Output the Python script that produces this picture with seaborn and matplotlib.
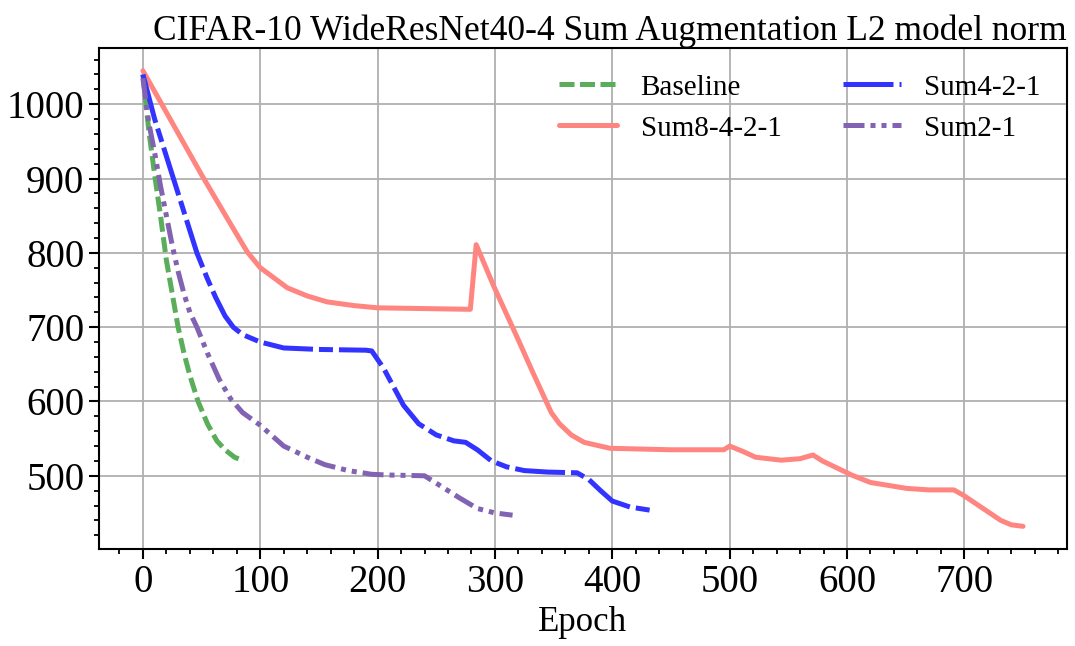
import pandas as pd
import seaborn as sns
import matplotlib.pyplot as plt
from matplotlib.ticker import MultipleLocator

# values (epoch, L2 norm)
baseline_epoch = [0, 5, 10, 15, 20, 25, 30, 35, 40, 47, 55, 63, 70, 78, 86]
baseline_norm = [1040, 965, 905, 850, 790, 745, 700, 665, 635, 600, 570, 547, 535, 525, 520]

sum8421_epoch = [0, 25, 50, 75, 89, 100, 123, 140, 157, 180, 200, 240, 279, 284, 299, 319,
                 332, 348, 355, 365, 376, 398, 450, 495, 500, 511, 522, 544, 560, 571, 579,
                 604, 620, 651, 670, 691, 699, 715, 731, 740, 750]
sum8421_norm = [1045, 975, 905, 838, 801, 780, 753, 742, 734, 729, 726, 725, 724, 811, 755, 686,
                640, 585, 570, 555, 545, 537, 535, 535, 540, 533, 525, 521, 523, 528, 520,
                501, 491, 483, 481, 481, 474, 457, 440, 434, 432]

sum421_epoch = [0, 5, 10, 15, 20, 26, 35, 46, 55, 62, 70, 77, 85, 100, 120, 150, 190, 195,
                205, 222, 235, 250, 265, 275, 285, 297, 310, 325, 345, 370, 380, 390, 400,
                415, 435]
sum421_norm = [1040, 1010, 980, 955, 930, 900, 855, 800, 765, 740, 715, 700, 690, 680, 672, 670,
               669, 668, 645, 595, 570, 555, 547, 545, 535, 520, 512, 507, 505, 504, 495, 480,
               466, 458, 453]

sum21_epoch = [0, 5, 10, 15, 20, 25, 30, 35, 40, 46, 55, 65, 75, 85, 100, 120, 140, 155, 175,
               195, 210, 240, 255, 270, 285, 300, 315]
sum21_norm = [1035, 975, 935, 890, 850, 810, 775, 745, 720, 700, 665, 630, 603, 585, 568, 540,
              525, 515, 507, 502, 501, 500, 485, 470, 456, 450, 447]

labels = ['Baseline', 'Sum8-4-2-1', 'Sum4-2-1', 'Sum2-1']
epochs = [baseline_epoch, sum8421_epoch, sum421_epoch, sum21_epoch]
norms = [baseline_norm, sum8421_norm, sum421_norm, sum21_norm]

df = pd.concat([pd.DataFrame({'Epoch': e, 'norm': n, 'model': lab})
                for lab, e, n in zip(labels, epochs, norms)], ignore_index=True)

palette = {'Baseline': '#5aad5a', 'Sum8-4-2-1': '#ff8580',
           'Sum4-2-1': '#3333ff', 'Sum2-1': '#8262b2'}
dashes = {'Baseline': (3, 1.1), 'Sum8-4-2-1': '',
          'Sum4-2-1': (10, 1.2, 2.8, 1.2), 'Sum2-1': (4.2, 1.2, 1, 1.2, 1, 1.2)}

sns.set_style('ticks')
plt.rcParams['font.family'] = ['Liberation Serif', 'DejaVu Serif']
plt.rcParams.update({'text.color': 'black', 'axes.labelcolor': 'black',
                     'xtick.color': 'black', 'ytick.color': 'black'})

fig = plt.figure(figsize=(10.75, 6.46), dpi=100)
ax = fig.add_axes([0.092, 0.150, 0.9006, 0.7757])

sns.lineplot(data=df, x='Epoch', y='norm', hue='model', style='model',
             hue_order=labels, style_order=labels, palette=palette, dashes=dashes,
             linewidth=3.6, sort=False, ax=ax)

ax.xaxis.set_major_locator(MultipleLocator(100))
ax.xaxis.set_minor_locator(MultipleLocator(20))
ax.yaxis.set_major_locator(MultipleLocator(100))
ax.yaxis.set_minor_locator(MultipleLocator(20))
ax.tick_params(which='major', direction='out', length=7, width=1.5, labelsize=28,
               color='black', labelcolor='black')
ax.tick_params(which='minor', direction='out', length=3.5, width=1.3, color='black')
ax.grid(True, which='major', color='#b0b0b0', linewidth=1.3)
for s in ax.spines.values():
    s.set_color('black')
    s.set_linewidth(1.5)

ax.set_xlabel('Epoch', fontsize=25, color='black')
ax.set_ylabel('')
ax.set_title('CIFAR-10 WideResNet40-4 Sum Augmentation L2 model norm', loc='right',
             fontsize=25.5, color='black')

ax.legend(title=None, ncol=2, frameon=False, fontsize=21, loc='upper right',
          columnspacing=2.1, handlelength=2.0, bbox_to_anchor=(1.0, 1.0))

plt.savefig('out.png', dpi=100)
plt.close()
